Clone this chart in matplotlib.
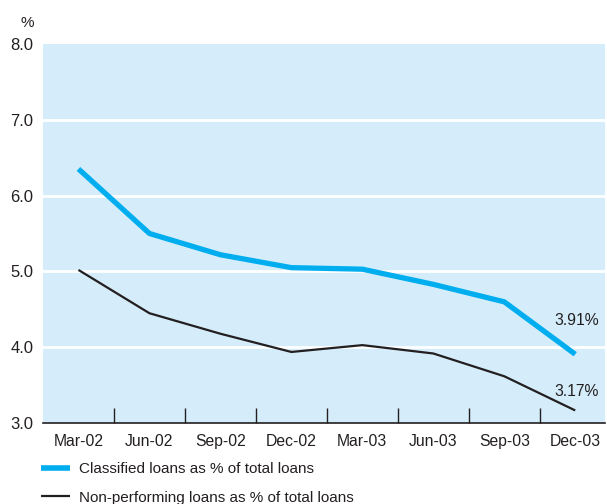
import matplotlib
matplotlib.use("Agg")
import matplotlib.pyplot as plt
from matplotlib.lines import Line2D

# Data
quarters = ['Mar-02', 'Jun-02', 'Sep-02', 'Dec-02', 'Mar-03', 'Jun-03', 'Sep-03', 'Dec-03']
classified = [6.35, 5.50, 5.22, 5.05, 5.03, 4.83, 4.60, 3.91]
non_performing = [5.02, 4.45, 4.18, 3.94, 4.03, 3.92, 3.62, 3.17]
y_ticks = [3.0, 4.0, 5.0, 6.0, 7.0, 8.0]

blue = '#00AEEF'
bg = '#D5EDFA'
dark = '#231F20'

plt.rcParams['font.family'] = ['Liberation Sans', 'DejaVu Sans']
plt.rcParams['font.size'] = 11

fig = plt.figure(figsize=(6.07, 5.04), dpi=100)
ax = fig.add_axes([0.0708, 0.160, 0.926, 0.7535])
ax.set_facecolor(bg)

x = list(range(len(quarters)))
ax.plot(x, classified, color=blue, lw=3.8, solid_capstyle='butt', zorder=3)
ax.plot(x, non_performing, color=dark, lw=1.6, solid_capstyle='butt', zorder=3)

ax.set_xlim(-0.5, 7.42)
ax.set_ylim(3.0, 8.0)

# white horizontal gridlines
for v in y_ticks[1:-1]:
    ax.axhline(v, color='white', lw=2, zorder=1)

ax.set_yticks(y_ticks)
ax.set_yticklabels([f'{v:.1f}' for v in y_ticks], fontsize=12, color=dark)
ax.tick_params(axis='y', length=0, pad=7)

ax.set_xticks(x)
ax.set_xticklabels(quarters, color=dark, fontsize=11.3)
ax.tick_params(axis='x', which='major', length=0, pad=8)
ax.set_xticks([i + 0.5 for i in x[:-1]], minor=True)
ax.tick_params(axis='x', which='minor', direction='in', length=11, width=1, color=dark)

for side in ['left', 'right', 'top']:
    ax.spines[side].set_visible(False)
ax.spines['bottom'].set_color(dark)
ax.spines['bottom'].set_linewidth(1.2)

# end labels
ax.annotate(f'{classified[-1]:.2f}%', (x[-1], classified[-1]), xytext=(17, 24),
            textcoords='offset points', ha='right', va='center', color=dark, fontsize=11.3)
ax.annotate(f'{non_performing[-1]:.2f}%', (x[-1], non_performing[-1]), xytext=(17, 14),
            textcoords='offset points', ha='right', va='center', color=dark, fontsize=11.3)

fig.text(0.045, 0.955, '%', ha='center', va='center', fontsize=11, color=dark)

# legend
handles = [Line2D([], [], color=blue, lw=4, solid_capstyle='butt'),
           Line2D([], [], color=dark, lw=1.6, solid_capstyle='butt')]
labels = ['Classified loans as % of total loans', 'Non-performing loans as % of total loans']
fig.legend(handles, labels, loc='upper left', bbox_to_anchor=(0.068, 0.083),
           frameon=False, handlelength=1.9, handletextpad=0.55, labelspacing=0.95,
           borderaxespad=0, borderpad=0, fontsize=11, labelcolor=dark)

fig.savefig('out.png', dpi=100)
